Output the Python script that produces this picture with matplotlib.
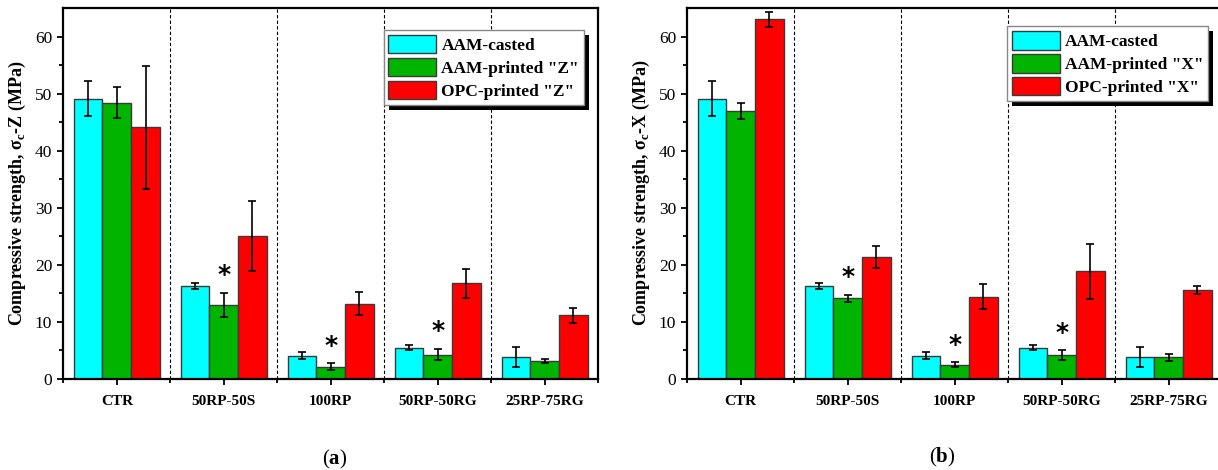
import matplotlib
matplotlib.use("Agg")
import matplotlib.pyplot as plt
import numpy as np
from matplotlib.patches import Rectangle
from matplotlib.transforms import IdentityTransform

plt.rcParams['font.family'] = ['Liberation Serif', 'DejaVu Serif']
plt.rcParams['mathtext.fontset'] = 'custom'
plt.rcParams['mathtext.rm'] = 'Liberation Serif:bold'
plt.rcParams['mathtext.bf'] = 'Liberation Serif:bold'

mixes = ['CTR', '50RP-50S', '100RP', '50RP-50RG', '25RP-75RG']

# AAM-casted is shared by both panels
casted = [49.1, 16.3, 4.05, 5.45, 3.8]
casted_err = [3.05, 0.55, 0.67, 0.4, 1.8]

# (a) printed, loaded along Z
aam_z = [48.4, 13.0, 2.1, 4.2, 3.1]
aam_z_err = [2.7, 2.1, 0.6, 1.0, 0.4]
opc_z = [44.1, 25.0, 13.15, 16.75, 11.1]
opc_z_err = [10.8, 6.1, 2.0, 2.55, 1.25]

# (b) printed, loaded along X
aam_x = [46.9, 14.1, 2.45, 4.1, 3.75]
aam_x_err = [1.4, 0.6, 0.45, 0.9, 0.65]
opc_x = [63.0, 21.35, 14.4, 18.8, 15.55]
opc_x_err = [1.3, 1.9, 2.2, 4.9, 0.65]

# mixes where the printed AAM differs significantly
starred = [1, 2, 3]

colors = ['#00FFFF', '#00B400', '#FF0000']
W = 0.268


def draw_panel(ax, series, errs, labels, direction, legend_anchor):
    x = np.arange(len(mixes))
    handles = []
    for k, (vals, err, col, lab) in enumerate(zip(series, errs, colors, labels)):
        b = ax.bar(x + (k - 1) * W, vals, W, color=col, edgecolor='#3a3a3a',
                   linewidth=1.0, label=lab, zorder=2)
        ax.errorbar(x + (k - 1) * W, vals, yerr=err, fmt='none', ecolor='black',
                    elinewidth=1.2, capsize=3.2, capthick=1.2, zorder=3)
        handles.append(b)

    # significance marks over the printed AAM bars
    for i in starred:
        top = series[1][i] + errs[1][i]
        ax.annotate('*', (x[i], top), xytext=(0, 4), textcoords='offset points',
                    ha='center', va='bottom', fontsize=18, fontweight='bold',
                    family='DejaVu Sans', zorder=4)

    for b in np.arange(0.5, len(mixes) - 1, 1.0):
        ax.axvline(b, color='black', lw=0.8, ls=(0, (3, 2)), zorder=1)

    ax.set_xlim(-0.5, len(mixes) - 0.5)
    ax.set_ylim(0, 65)
    ax.set_xticks(x)
    ax.set_xticklabels(mixes, fontsize=11, fontweight='bold')
    ax.set_xticks(np.arange(-0.5, len(mixes), 1.0), minor=True)
    ax.set_yticks(np.arange(0, 61, 10))
    ax.set_yticks(np.arange(5, 61, 10), minor=True)
    ax.tick_params(axis='both', which='major', direction='out', length=4.5,
                   width=1.3)
    ax.tick_params(axis='y', which='major', labelsize=12.5)
    ax.tick_params(axis='both', which='minor', direction='out', length=3,
                   width=1.3)
    ax.tick_params(axis='x', which='major', pad=7)
    for s in ax.spines.values():
        s.set_linewidth(1.6)

    ax.set_ylabel('Compressive strength, σ$_\\mathrm{c}$-' + direction + ' (MPa)',
                  fontsize=13, fontweight='bold', labelpad=5)

    leg = ax.legend(handles=handles, loc='upper right', bbox_to_anchor=legend_anchor,
                    borderaxespad=0, fancybox=False, framealpha=1, edgecolor='#888888',
                    prop={'weight': 'bold', 'size': 12.5},
                    handlelength=2.75, handleheight=1.27, handletextpad=0.3,
                    labelspacing=0.22, borderpad=0.28)
    leg.get_frame().set_linewidth(1.0)
    leg.set_zorder(6)
    return leg


fig = plt.figure(figsize=(12.18, 4.7), dpi=100)
ax_a = fig.add_axes([0.052, 0.1943, 0.4392, 0.7887])
ax_b = fig.add_axes([0.5643, 0.1943, 0.4392, 0.7887])

leg_a = draw_panel(ax_a, [casted, aam_z, opc_z], [casted_err, aam_z_err, opc_z_err],
                   ['AAM-casted', 'AAM-printed "Z"', 'OPC-printed "Z"'], 'Z',
                   (0.973, 0.941))
leg_b = draw_panel(ax_b, [casted, aam_x, opc_x], [casted_err, aam_x_err, opc_x_err],
                   ['AAM-casted', 'AAM-printed "X"', 'OPC-printed "X"'], 'X',
                   (0.974, 0.951))

# solid drop shadow behind each legend box
fig.canvas.draw()
for ax, leg in [(ax_a, leg_a), (ax_b, leg_b)]:
    bb = leg.get_window_extent()
    ax.add_patch(Rectangle((bb.x0 + 5, bb.y0 - 5), bb.width, bb.height,
                           facecolor='black', edgecolor='none',
                           transform=IdentityTransform(), clip_on=False, zorder=5))

fig.text(0.275, 0.022, '($\\mathbf{a}$)', ha='center', va='center', fontsize=15)
fig.text(0.774, 0.026, '($\\mathbf{b}$)', ha='center', va='center', fontsize=15)

fig.savefig('out.png', dpi=100)
